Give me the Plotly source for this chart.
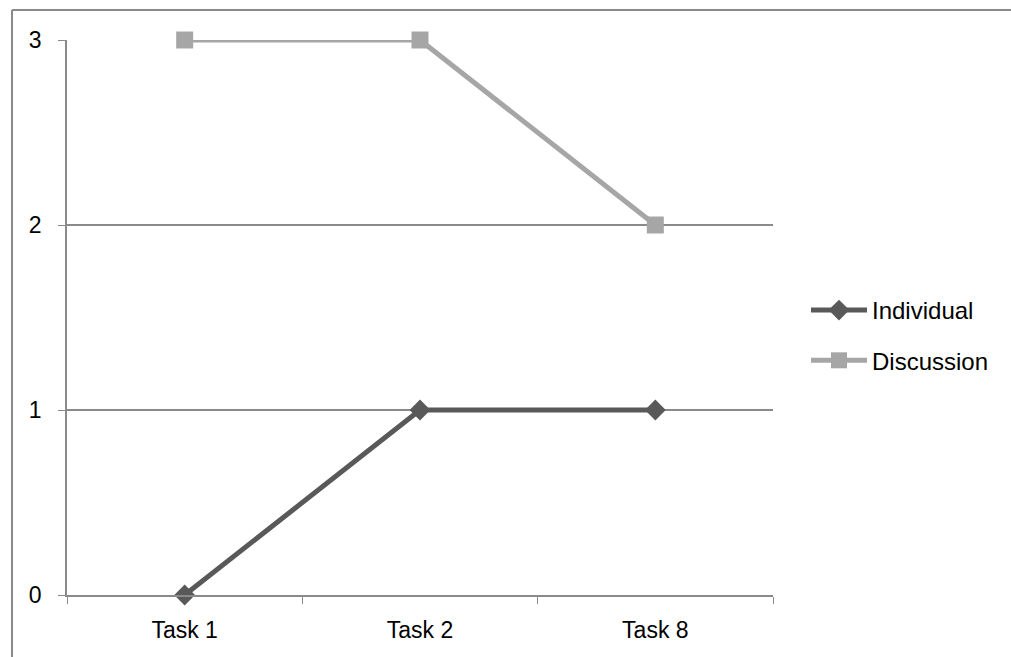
import plotly.graph_objects as go

categories = ["Task 1", "Task 2", "Task 8"]
individual = [0, 1, 1]
discussion = [3, 3, 2]
y_ticks = [0, 1, 2, 3]

GRID = "#8a8a8a"
FONT = "Liberation Sans"

fig = go.Figure()
fig.add_trace(go.Scatter(
    x=categories, y=individual, name="Individual", mode="lines+markers",
    legendgroup="a",
    line=dict(color="#595959", width=5),
    marker=dict(symbol="diamond", size=16, color="#595959"),
    cliponaxis=False,
))
fig.add_trace(go.Scatter(
    x=categories, y=discussion, name="Discussion", mode="lines+markers",
    legendgroup="b",
    line=dict(color="#a6a6a6", width=5),
    marker=dict(symbol="square", size=17, color="#a6a6a6"),
    cliponaxis=False,
))

fig.update_layout(
    width=1011, height=657,
    margin=dict(l=67, r=238, t=40, b=62),
    paper_bgcolor="white", plot_bgcolor="white",
    font=dict(family=FONT, size=23, color="#000000"),
    showlegend=True,
    legend=dict(x=(806 - 67) / 706, y=0.5 - 18 / 555, xanchor="left", yanchor="middle",
                font=dict(size=24), itemwidth=56, tracegroupgap=16,
                traceorder="grouped",
                bgcolor="rgba(0,0,0,0)"),
    xaxis=dict(
        type="category", categoryorder="array", categoryarray=categories,
        range=[-0.5, 2.5], tickson="boundaries", ticks="outside", ticklen=7,
        tickcolor=GRID, showgrid=False, showline=True, linecolor=GRID,
        linewidth=1.5, zeroline=False, fixedrange=True,
        ticklabelstandoff=14,
    ),
    yaxis=dict(
        range=[0, 3], tickvals=y_ticks, ticks="outside", ticklen=7,
        tickcolor=GRID, showgrid=True, gridcolor=GRID, gridwidth=1.5,
        showline=True, linecolor=GRID, linewidth=1.5, zeroline=False,
        ticklabelstandoff=12,
    ),
    shapes=[
        dict(type="line", xref="paper", yref="paper",
             x0=(12 - 67) / 706, x1=(1011 - 67) / 706 + 0.01,
             y0=1 + 30 / 555, y1=1 + 30 / 555,
             line=dict(color="#8a8a8a", width=2)),
        dict(type="line", xref="paper", yref="paper",
             x0=(12 - 67) / 706, x1=(12 - 67) / 706,
             y0=1 + 30 / 555, y1=-62 / 555 - 0.01,
             line=dict(color="#8a8a8a", width=2)),
    ],
)

fig.write_html(
    "out.html",
    config={"displayModeBar": False},
    post_script="document.body.style.margin='0';document.body.style.overflow='hidden';",
)
